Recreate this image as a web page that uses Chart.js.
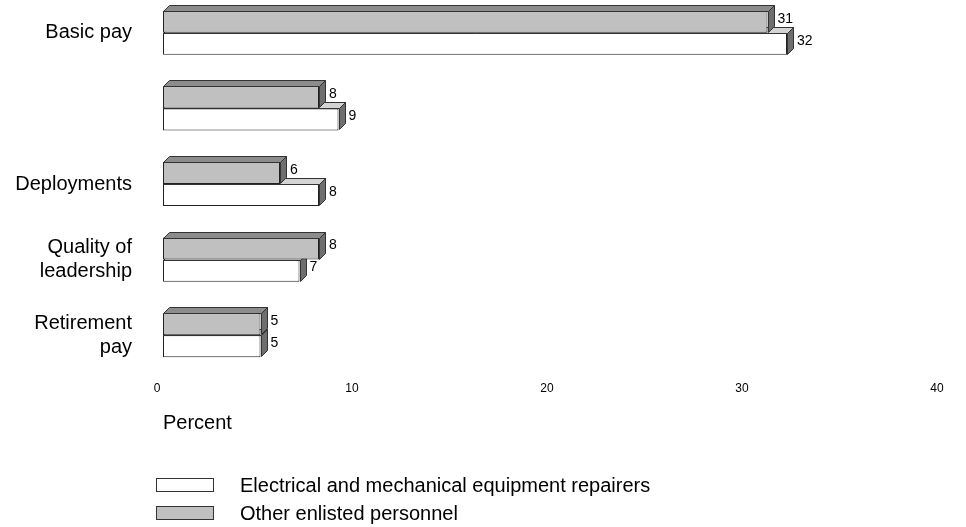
<!DOCTYPE html>
<html><head><meta charset="utf-8">
<script src="https://cdn.jsdelivr.net/npm/chart.js@4/dist/chart.umd.min.js"></script>
<style>
html,body{margin:0;padding:0;background:#fff;width:966px;height:527px;overflow:hidden;font-family:"Liberation Sans",Arial,sans-serif;}
#wrap{position:absolute;left:0;top:-5px;width:966px;height:532px;}
.box{position:absolute;left:156px;width:56px;height:12px;border:1px solid #333;}
.txt{position:absolute;left:240px;font-size:20px;color:#000;line-height:22px;white-space:nowrap;}
</style></head>
<body>
<div id="wrap"><canvas id="c"></canvas></div>
<div id="legend"></div>
<script>
const categories = [["Basic pay"], [""], ["Deployments"], ["Quality of", "leadership"], ["Retirement", "pay"]];
const seriesNames = ["Electrical and mechanical equipment repairers", "Other enlisted personnel"];
const repairers = [32, 9, 8, 7, 5];
const otherEnlisted = [31, 8, 6, 8, 5];
const xTicks = [0, 10, 20, 30, 40];
const axisTitle = "Percent";

const FONT = '"Liberation Sans", Arial, sans-serif';
const DEPTH = 6;
const styles = {
  white: {front: '#ffffff', top: '#d4d4d4', side: '#6e6e6e'},
  gray:  {front: '#c0c0c0', top: '#8c8c8c', side: '#6e6e6e'}
};

// legend (HTML)
const legendEl = document.getElementById('legend');
[[seriesNames[0], styles.white.front, 478, 474], [seriesNames[1], styles.gray.front, 506, 502]].forEach(([name, col, by, ty]) => {
  const b = document.createElement('div'); b.className = 'box'; b.style.top = by + 'px'; b.style.background = col; legendEl.appendChild(b);
  const t = document.createElement('div'); t.className = 'txt'; t.style.top = ty + 'px'; t.textContent = name; legendEl.appendChild(t);
});

const bar3d = {
  id: 'bar3d',
  afterDatasetDraw(chart, args) {
    const meta = args.meta;
    const st = chart.data.datasets[args.index].faces;
    const ctx = chart.ctx;
    ctx.save();
    ctx.lineWidth = 1;
    ctx.strokeStyle = '#333';
    meta.data.forEach(el => {
      const x = Math.round(el.x) + 0.5, b = Math.round(el.base) + 0.5;
      const top = Math.round(el.y - el.height / 2) + 0.5, bot = Math.round(el.y + el.height / 2) - 0.5;
      const d = DEPTH;
      ctx.beginPath();
      ctx.moveTo(b, top); ctx.lineTo(b + d, top - d); ctx.lineTo(x + d, top - d); ctx.lineTo(x, top); ctx.closePath();
      ctx.fillStyle = st.top; ctx.fill(); ctx.stroke();
      ctx.beginPath();
      ctx.moveTo(x, top); ctx.lineTo(x + d, top - d); ctx.lineTo(x + d, bot - d); ctx.lineTo(x, bot); ctx.closePath();
      ctx.fillStyle = st.side; ctx.fill(); ctx.stroke();
    });
    ctx.restore();
  },
  afterDatasetsDraw(chart) {
    const ctx = chart.ctx;
    ctx.save();
    ctx.font = '14px ' + FONT;
    ctx.fillStyle = '#000';
    ctx.textAlign = 'left';
    ctx.textBaseline = 'middle';
    chart.data.datasets.forEach((ds, i) => {
      const meta = chart.getDatasetMeta(i);
      meta.data.forEach((el, j) => {
        ctx.fillText(String(ds.data[j]), el.x + DEPTH + 4, el.y - DEPTH / 2);
      });
    });
    ctx.restore();
  }
};

new Chart(document.getElementById('c'), {
  type: 'bar',
  data: {
    labels: categories,
    datasets: [
      {label: seriesNames[1], data: otherEnlisted, backgroundColor: styles.gray.front, borderColor: '#222', borderWidth: 1, borderSkipped: false, faces: styles.gray},
      {label: seriesNames[0], data: repairers, backgroundColor: styles.white.front, borderColor: '#222', borderWidth: 1, borderSkipped: false, faces: styles.white}
    ]
  },
  plugins: [bar3d],
  options: {
    indexAxis: 'y',
    responsive: true,
    maintainAspectRatio: false,
    animation: false,
    layout: {padding: {left: 0, right: 23, top: 0, bottom: 92}},
    categoryPercentage: 0.583,
    barPercentage: 1.0,
    plugins: {legend: {display: false}, tooltip: {enabled: false}},
    scales: {
      x: {
        min: xTicks[0], max: xTicks[xTicks.length - 1],
        grid: {display: false}, border: {display: false},
        afterBuildTicks: s => { s.ticks = xTicks.map(v => ({value: v})); },
        ticks: {font: {size: 12, family: FONT}, color: '#000', padding: 0, labelOffset: -6, maxRotation: 0},
        title: {display: true, text: axisTitle, align: 'start', color: '#000', font: {size: 20, family: FONT, lineHeight: 1.2}, padding: {top: 15.6, bottom: 0}},
        afterFit: s => { s.paddingLeft = 0; s.paddingRight = 0; }
      },
      y: {
        grid: {display: false}, border: {display: false},
        ticks: {font: {size: 20, family: FONT, lineHeight: 1.2}, color: '#000', padding: 23},
        afterFit: s => { s.width = 163; s.paddingTop = 0; s.paddingBottom = 0; }
      }
    }
  }
});
</script>
</body></html>
